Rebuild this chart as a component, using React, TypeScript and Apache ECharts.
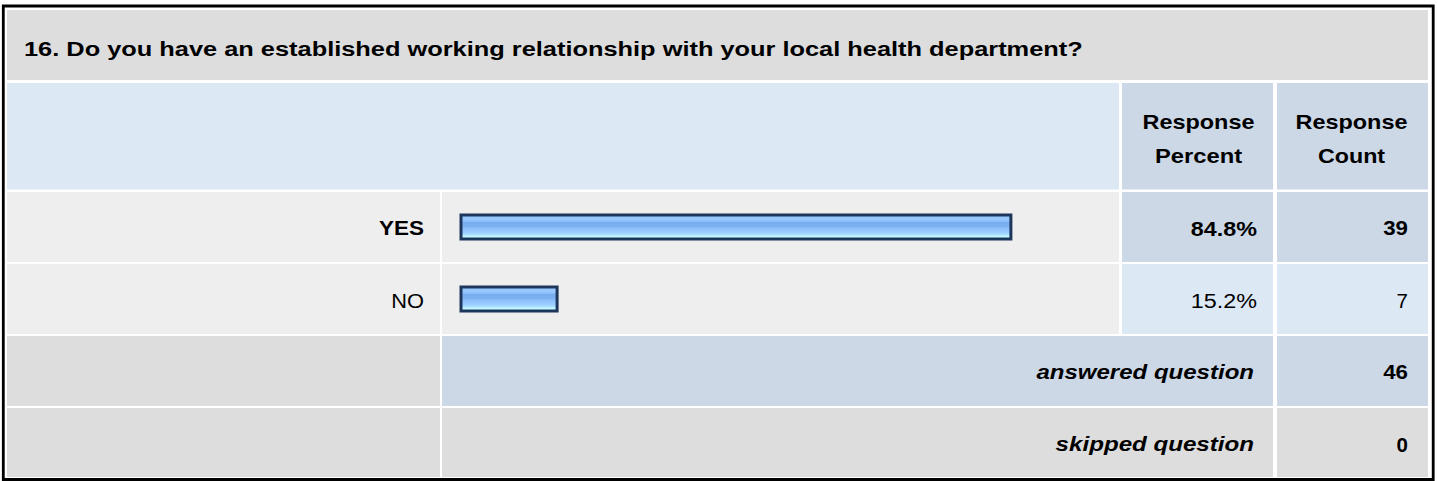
import React, { useEffect, useRef } from "react";
import * as echarts from "echarts";

const titleText = "16. Do you have an established working relationship with your local health department?";
const headerPercent = ["Response", "Percent"];
const headerCount = ["Response", "Count"];
const categories = ["YES", "NO"];
const percents = [84.8, 15.2];
const counts = [39, 7];
const summaryLabels = ["answered question", "skipped question"];
const summaryValues = [46, 0];

const FONT = '"Liberation Sans", Arial, Helvetica, sans-serif';

let measureCtx: CanvasRenderingContext2D | null = null;
function spacedScale(text: string, font: string, ls: number): number {
  if (!measureCtx) measureCtx = document.createElement("canvas").getContext("2d");
  if (!measureCtx) return 1.15;
  measureCtx.font = font;
  const w = measureCtx.measureText(text).width || 1;
  return (w + ls * (text.length - 1)) / w;
}

function txt(
  text: string,
  x: number,
  y: number,
  opts: { size?: number; weight?: string; style?: string; align?: string; ls?: number } = {}
) {
  const size = opts.size ?? 20.5;
  const weight = opts.weight ?? "normal";
  const fstyle = opts.style ?? "normal";
  const align = opts.align ?? "left";
  const ls = opts.ls ?? 2;
  const font = `${fstyle} ${weight} ${size}px ${FONT}`;
  return {
    type: "text",
    x,
    y,
    z: 20,
    scaleX: spacedScale(text, font, ls),
    silent: true,
    style: {
      text,
      fontSize: size,
      fontFamily: FONT,
      fontWeight: weight,
      fontStyle: fstyle,
      fill: "#000000",
      align,
      verticalAlign: "middle",
      textAlign: align,
      textVerticalAlign: "middle",
    },
  };
}

function cell(x1: number, y1: number, x2: number, y2: number, color: string) {
  return {
    type: "rect",
    z: 1,
    silent: true,
    shape: { x: x1, y: y1, width: x2 - x1, height: y2 - y1 },
    style: { fill: color },
  };
}

export default function App() {
  const ref = useRef<HTMLDivElement>(null);

  useEffect(() => {
    document.body.style.margin = "0";
    if (!ref.current) return;
    const chart = echarts.init(ref.current, undefined, { renderer: "svg" });

    const GRAY = "#dddddd";
    const ROW = "#eeeeee";
    const LIGHT = "#dde8f5";
    const MID = "#ccd8e6";

    const L0 = 7, L1 = 440, B0 = 442, B1 = 1119, P0 = 1122, P1 = 1273, C0 = 1277, C1 = 1428;
    const rows = [
      [10, 80],
      [83, 189.5],
      [192, 262],
      [264, 334],
      [336, 406],
      [408, 477],
    ];

    const g: any[] = [];
    g.push({
      type: "rect",
      z: 0,
      silent: true,
      shape: { x: 3.3, y: 6, width: 1429.9, height: 473.5 },
      style: { fill: "#ffffff", stroke: "#000000", lineWidth: 2.8 },
    });
    g.push(cell(L0, rows[0][0], C1, rows[0][1], GRAY));
    g.push(cell(L0, rows[1][0], B1, rows[1][1], LIGHT));
    g.push(cell(P0, rows[1][0], P1, rows[1][1], MID));
    g.push(cell(C0, rows[1][0], C1, rows[1][1], MID));
    categories.forEach((_, i) => {
      const [t, b] = rows[2 + i];
      const bold = i === 0;
      g.push(cell(L0, t, L1, b, ROW));
      g.push(cell(B0, t, B1, b, ROW));
      g.push(cell(P0, t, P1, b, bold ? MID : LIGHT));
      g.push(cell(C0, t, C1, b, bold ? MID : LIGHT));
    });
    g.push(cell(L0, rows[4][0], L1, rows[4][1], GRAY));
    g.push(cell(B0, rows[4][0], P1, rows[4][1], MID));
    g.push(cell(C0, rows[4][0], C1, rows[4][1], MID));
    g.push(cell(L0, rows[5][0], L1, rows[5][1], GRAY));
    g.push(cell(B0, rows[5][0], P1, rows[5][1], GRAY));
    g.push(cell(C0, rows[5][0], C1, rows[5][1], GRAY));

    g.push(txt(titleText, 24, 48.5, { size: 21, weight: "bold", ls: 2.15 }));
    const pc = (P0 + P1) / 2 + 1, cc = (C0 + C1) / 2 - 1;
    g.push(txt(headerPercent[0], pc, 122.5, { weight: "bold", align: "center" }));
    g.push(txt(headerPercent[1], pc, 156, { weight: "bold", align: "center" }));
    g.push(txt(headerCount[0], cc, 122.5, { weight: "bold", align: "center" }));
    g.push(txt(headerCount[1], cc, 156, { weight: "bold", align: "center" }));

    categories.forEach((c, i) => {
      const [t, b] = rows[2 + i];
      const y = (t + b) / 2 + 1.5;
      const weight = i === 0 ? "bold" : "normal";
      g.push(txt(c, 424, y, { weight, align: "right" }));
      g.push(txt(`${percents[i].toFixed(1)}%`, 1257, y, { weight, align: "right" }));
      g.push(txt(String(counts[i]), 1408, y, { weight, align: "right" }));
    });
    summaryLabels.forEach((s, i) => {
      const [t, b] = rows[4 + i];
      const y = (t + b) / 2 + 1.5;
      g.push(txt(s, 1254, y, { weight: "bold", style: "italic", align: "right" }));
      g.push(txt(String(summaryValues[i]), 1408, y, { weight: "bold", align: "right" }));
    });

    chart.setOption({
      animation: false,
      backgroundColor: "#ffffff",
      grid: { left: 459.5, top: 191, width: 652, height: 144, containLabel: false },
      xAxis: { type: "value", min: 0, max: 100, show: false },
      yAxis: { type: "category", data: categories, inverse: true, show: false },
      graphic: { elements: g },
      series: [
        {
          type: "bar",
          data: percents,
          barWidth: 27,
          z: 10,
          silent: true,
          itemStyle: {
            borderColor: "#1d365c",
            borderWidth: 3,
            color: new echarts.graphic.LinearGradient(0, 0, 0, 1, [
              { offset: 0, color: "#9dcdff" },
              { offset: 0.25, color: "#92c4fc" },
              { offset: 0.3, color: "#78aeef" },
              { offset: 0.48, color: "#7cb2f1" },
              { offset: 0.55, color: "#8cbff8" },
              { offset: 0.7, color: "#99ccff" },
              { offset: 0.82, color: "#a9dcff" },
              { offset: 0.88, color: "#c4fbff" },
              { offset: 1, color: "#c8ffff" },
            ]),
          },
        },
      ],
    });

    return () => chart.dispose();
  }, []);

  return <div ref={ref} style={{ width: 1438, height: 481 }} />;
}
